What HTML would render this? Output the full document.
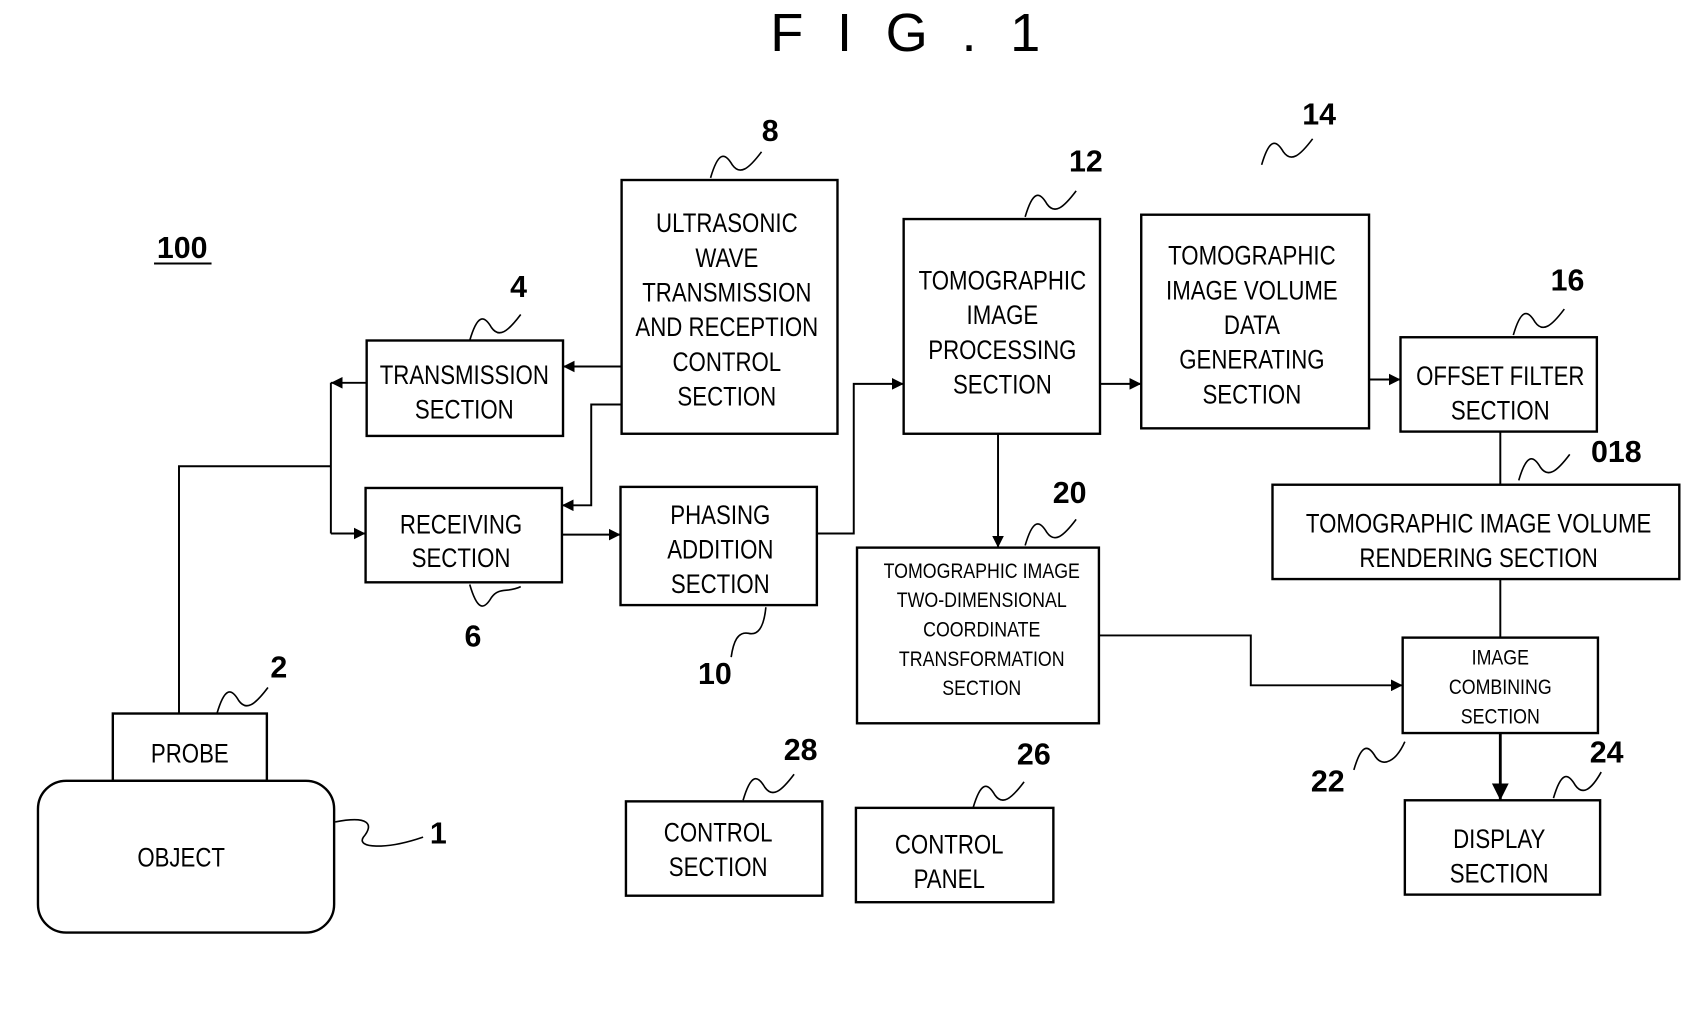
<!DOCTYPE html>
<html><head><meta charset="utf-8"><style>
html,body{margin:0;padding:0;background:#fff;}
svg{display:block;}
text{font-family:"Liberation Sans",sans-serif;fill:#000;}
.t{font-size:25px;text-anchor:middle;transform-box:fill-box;transform-origin:center;transform:scaleX(0.82);}
.s{font-size:20px;text-anchor:middle;transform-box:fill-box;transform-origin:center;transform:scaleX(0.82);}
.n{font-size:28px;font-weight:bold;text-anchor:middle;}
rect{fill:none;stroke:#000;stroke-width:2.2;}
.l{fill:none;stroke:#000;stroke-width:1.8;}
.q{fill:none;stroke:#000;stroke-width:1.5;}
</style></head><body>
<svg width="1701" height="1028" viewBox="0 0 1568 948" preserveAspectRatio="none" xmlns="http://www.w3.org/2000/svg">
<defs><marker id="a" viewBox="0 0 10 10" refX="10" refY="5" markerWidth="6" markerHeight="6" orient="auto"><path d="M0,0L10,5L0,10z" fill="#000"/></marker></defs>
<text x="850" y="47" style="font-size:50px;letter-spacing:31px;text-anchor:middle">FIG.1</text>
<text x="168" y="238" class="n">100</text>
<line x1="142" y1="243" x2="195" y2="243" class="l"/>

<rect x="35" y="720" width="273" height="140" rx="26"/>
<text x="167" y="799" class="t">OBJECT</text>
<rect x="104" y="658" width="142" height="62"/>
<text x="175" y="703" class="t">PROBE</text>
<rect x="338" y="314" width="181" height="88"/>
<text x="428" y="354" class="t">TRANSMISSION</text><text x="428" y="386" class="t">SECTION</text>
<rect x="337" y="450" width="181" height="87"/>
<text x="425" y="492" class="t">RECEIVING</text><text x="425" y="523" class="t">SECTION</text>
<rect x="573" y="166" width="199" height="234"/>
<text x="670" y="214" class="t">ULTRASONIC</text><text x="670" y="246" class="t">WAVE</text><text x="670" y="278" class="t">TRANSMISSION</text><text x="670" y="310" class="t">AND RECEPTION</text><text x="670" y="342" class="t">CONTROL</text><text x="670" y="374" class="t">SECTION</text>
<rect x="572" y="449" width="181" height="109"/>
<text x="664" y="483" class="t">PHASING</text><text x="664" y="515" class="t">ADDITION</text><text x="664" y="547" class="t">SECTION</text>
<rect x="833" y="202" width="181" height="198"/>
<text x="924" y="267" class="t">TOMOGRAPHIC</text><text x="924" y="299" class="t">IMAGE</text><text x="924" y="331" class="t">PROCESSING</text><text x="924" y="363" class="t">SECTION</text>
<rect x="1052" y="198" width="210" height="197"/>
<text x="1154" y="244" class="t">TOMOGRAPHIC</text><text x="1154" y="276" class="t">IMAGE VOLUME</text><text x="1154" y="308" class="t">DATA</text><text x="1154" y="340" class="t">GENERATING</text><text x="1154" y="372" class="t">SECTION</text>
<rect x="1291" y="311" width="181" height="87"/>
<text x="1383" y="355" class="t">OFFSET FILTER</text><text x="1383" y="387" class="t">SECTION</text>
<rect x="1173" y="447" width="375" height="87"/>
<text x="1363" y="491" class="t">TOMOGRAPHIC IMAGE VOLUME</text><text x="1363" y="523" class="t">RENDERING SECTION</text>
<rect x="790" y="505" width="223" height="162"/>
<text x="905" y="533" class="s">TOMOGRAPHIC IMAGE</text><text x="905" y="560" class="s">TWO-DIMENSIONAL</text><text x="905" y="587" class="s">COORDINATE</text><text x="905" y="614" class="s">TRANSFORMATION</text><text x="905" y="641" class="s">SECTION</text>
<rect x="1293" y="588" width="180" height="88"/>
<text x="1383" y="613" class="s">IMAGE</text><text x="1383" y="640" class="s">COMBINING</text><text x="1383" y="667" class="s">SECTION</text>
<rect x="1295" y="738" width="180" height="87"/>
<text x="1382" y="782" class="t">DISPLAY</text><text x="1382" y="814" class="t">SECTION</text>
<rect x="577" y="739" width="181" height="87"/>
<text x="662" y="776" class="t">CONTROL</text><text x="662" y="808" class="t">SECTION</text>
<rect x="789" y="745" width="182" height="87"/>
<text x="875" y="787" class="t">CONTROL</text><text x="875" y="819" class="t">PANEL</text>

<polyline points="165,658 165,430 305,430" class="l"/>
<line x1="305" y1="353" x2="305" y2="492" class="l"/>
<line x1="338" y1="353" x2="305" y2="353" class="l" marker-end="url(#a)"/>
<line x1="305" y1="492" x2="337" y2="492" class="l" marker-end="url(#a)"/>
<line x1="573" y1="338" x2="519" y2="338" class="l" marker-end="url(#a)"/>
<polyline points="573,373 545,373 545,466 518,466" class="l" marker-end="url(#a)"/>
<line x1="518" y1="493" x2="572" y2="493" class="l" marker-end="url(#a)"/>
<polyline points="753,492 787,492 787,354 833,354" class="l" marker-end="url(#a)"/>
<line x1="1014" y1="354" x2="1052" y2="354" class="l" marker-end="url(#a)"/>
<line x1="1262" y1="350" x2="1291" y2="350" class="l" marker-end="url(#a)"/>
<line x1="920" y1="400" x2="920" y2="505" class="l" marker-end="url(#a)"/>
<line x1="1383" y1="398" x2="1383" y2="447" class="l"/>
<line x1="1383" y1="534" x2="1383" y2="588" class="l"/>
<polyline points="1013,586 1153,586 1153,632 1293,632" class="l" marker-end="url(#a)"/>
<line x1="1383" y1="676" x2="1383" y2="738" class="l" style="stroke-width:2.6" marker-end="url(#a)"/>

<path class="q" d="M655,164 C662,140 668,140 675,152 C682,162 690,156 702,140"/><text x="710" y="130" class="n">8</text>
<path class="q" d="M433,314 C440,290 446,290 453,302 C460,312 468,306 480,290"/><text x="478" y="274" class="n">4</text>
<path class="q" d="M945,200 C952,176 958,176 965,188 C972,198 980,192 992,176"/><text x="1001" y="158" class="n">12</text>
<path class="q" d="M1163,152 C1170,128 1176,128 1183,140 C1190,150 1198,144 1210,128"/><text x="1216" y="115" class="n">14</text>
<path class="q" d="M1395,309 C1402,285 1408,285 1415,297 C1422,307 1430,301 1442,285"/><text x="1445" y="268" class="n">16</text>
<path class="q" d="M1400,443 C1407,419 1413,419 1420,431 C1427,441 1435,435 1447,419"/><text x="1490" y="426" class="n">018</text>
<path class="q" d="M945,503 C952,479 958,479 965,491 C972,501 980,495 992,479"/><text x="986" y="464" class="n">20</text>
<path class="q" d="M433,539 C440,563 446,563 453,551 C460,541 468,547 480,541"/><text x="436" y="596" class="n">6</text>
<path class="q" d="M706,560 C704,580 698,586 690,584 C680,582 676,592 674,606"/><text x="659" y="631" class="n">10</text>
<path class="q" d="M200,658 C207,634 213,634 220,646 C227,656 235,650 247,634"/><text x="257" y="625" class="n">2</text>
<path class="q" d="M685,738 C692,714 698,714 705,726 C712,736 720,730 732,714"/><text x="738" y="701" class="n">28</text>
<path class="q" d="M897,745 C904,721 910,721 917,733 C924,743 932,737 944,721"/><text x="953" y="705" class="n">26</text>
<path class="q" d="M1248,710 C1255,686 1261,686 1268,698 C1275,708 1287,702 1295,684"/><text x="1224" y="730" class="n">22</text>
<path class="q" d="M1432,736 C1439,712 1445,712 1452,724 C1459,734 1467,728 1476,712"/><text x="1481" y="703" class="n">24</text>
<path class="q" d="M309,758 C340,752 345,760 335,772 C328,782 355,784 390,772"/><text x="404" y="778" class="n">1</text>
</svg>
</body></html>
